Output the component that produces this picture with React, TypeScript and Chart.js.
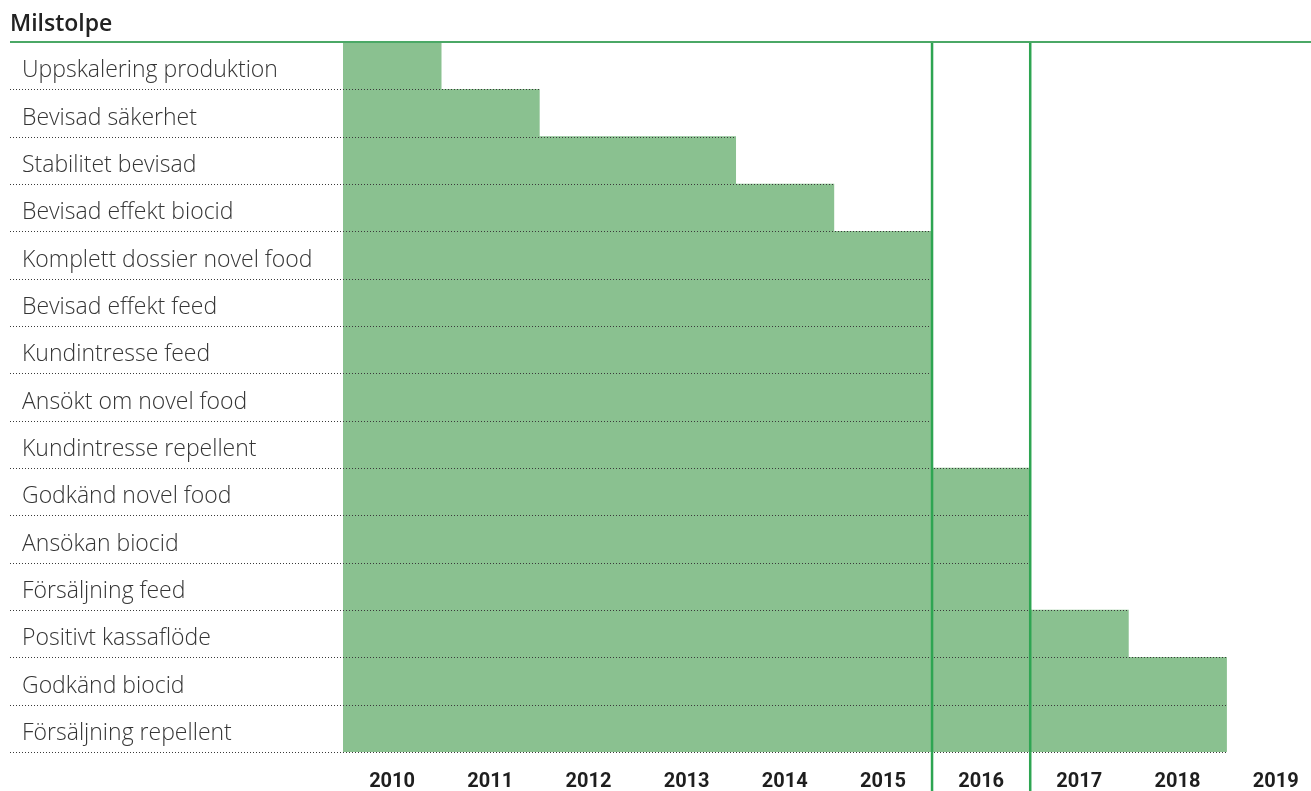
import React, { useEffect, useRef } from "react";
import { Chart, registerables } from "chart.js";

Chart.register(...registerables);

const headerTitle = "Milstolpe";

const milestones = [
  "Uppskalering produktion",
  "Bevisad säkerhet",
  "Stabilitet bevisad",
  "Bevisad effekt biocid",
  "Komplett dossier novel food",
  "Bevisad effekt feed",
  "Kundintresse feed",
  "Ansökt om novel food",
  "Kundintresse repellent",
  "Godkänd novel food",
  "Ansökan biocid",
  "Försäljning feed",
  "Positivt kassaflöde",
  "Godkänd biocid",
  "Försäljning repellent",
];

// number of year columns covered from 2010 onwards
const yearsCovered = [1, 2, 4, 5, 6, 6, 6, 6, 6, 7, 7, 7, 8, 9, 9];

const years = ["2010", "2011", "2012", "2013", "2014", "2015", "2016", "2017", "2018", "2019"];

// years whose start is marked by a vertical line
const dividerYears = ["2016", "2017"];

const overlayPlugin = {
  id: "overlay",
  afterDatasetsDraw(chart: any) {
    const ctx = chart.ctx as CanvasRenderingContext2D;
    const area = chart.chartArea;
    const xs = chart.scales.x;
    const bars = chart.getDatasetMeta(0).data as any[];
    ctx.save();

    // dotted row separators
    ctx.strokeStyle = "#3a3a3a";
    ctx.lineWidth = 1;
    ctx.setLineDash([1, 2]);
    for (let i = 0; i < bars.length; i++) {
      const b = bars[i];
      const bottom = b.y + b.height / 2;
      let end = b.x;
      if (i + 1 < bars.length) end = Math.max(end, bars[i + 1].x);
      const yy = Math.round(bottom) + 0.5;
      ctx.beginPath();
      ctx.moveTo(10, yy);
      ctx.lineTo(end, yy);
      ctx.stroke();
    }
    ctx.setLineDash([]);

    // vertical divider lines
    ctx.strokeStyle = "#2ea552";
    ctx.lineWidth = 2.5;
    dividerYears.forEach((y) => {
      const idx = years.indexOf(y);
      const px = xs.getPixelForValue(idx);
      ctx.beginPath();
      ctx.moveTo(px, area.top);
      ctx.lineTo(px, chart.height);
      ctx.stroke();
    });

    // header line
    ctx.strokeStyle = "#4ba866";
    ctx.lineWidth = 2;
    ctx.beginPath();
    ctx.moveTo(10, area.top);
    ctx.lineTo(chart.width, area.top);
    ctx.stroke();

    // header title
    ctx.fillStyle = "#222";
    ctx.font = "600 23px 'Open Sans'";
    ctx.textAlign = "left";
    ctx.textBaseline = "alphabetic";
    ctx.fillText(headerTitle, 10, 31);

    ctx.restore();
  },
};

export default function App() {
  const canvasRef = useRef<HTMLCanvasElement | null>(null);

  useEffect(() => {
    if (!canvasRef.current) return;
    const chart = new Chart(canvasRef.current, {
      type: "bar",
      data: {
        labels: milestones,
        datasets: [
          {
            data: yearsCovered,
            backgroundColor: "rgb(138,193,144)",
            borderWidth: 0,
            barPercentage: 1,
            categoryPercentage: 1,
          },
        ],
      },
      options: {
        indexAxis: "y",
        animation: false,
        responsive: true,
        maintainAspectRatio: false,
        layout: { padding: { left: 22, top: 42, right: 0, bottom: 0 } },
        plugins: {
          legend: { display: false },
          tooltip: { enabled: false },
        },
        scales: {
          x: {
            type: "linear",
            min: 0,
            max: 9.86,
            grid: { display: false, drawTicks: false },
            border: { display: false },
            afterBuildTicks: (scale: any) => {
              scale.ticks = years.map((_, i) => ({ value: i + 0.5 }));
            },
            afterFit: (scale: any) => {
              scale.height = 39;
              scale.paddingLeft = 0;
              scale.paddingRight = 0;
            },
            ticks: {
              autoSkip: false,
              maxRotation: 0,
              padding: 18,
              color: "#1e1e1e",
              font: { family: "Roboto", size: 20, weight: "bold" },
              callback: (v: any) => years[Math.round(Number(v) - 0.5)] ?? "",
            },
          },
          y: {
            grid: { display: false, drawTicks: false },
            border: { display: false },
            afterFit: (scale: any) => {
              scale.width = 321;
            },
            ticks: {
              autoSkip: false,
              crossAlign: "far",
              labelOffset: 5,
              color: "#353535",
              font: { family: "'Open Sans'", size: 23, weight: 300 },
            },
          },
        },
      },
      plugins: [overlayPlugin],
    });
    return () => chart.destroy();
  }, []);

  return (
    <div style={{ position: "absolute", left: 0, top: 0, width: 1311, height: 791 }}>
      <canvas ref={canvasRef} />
    </div>
  );
}
